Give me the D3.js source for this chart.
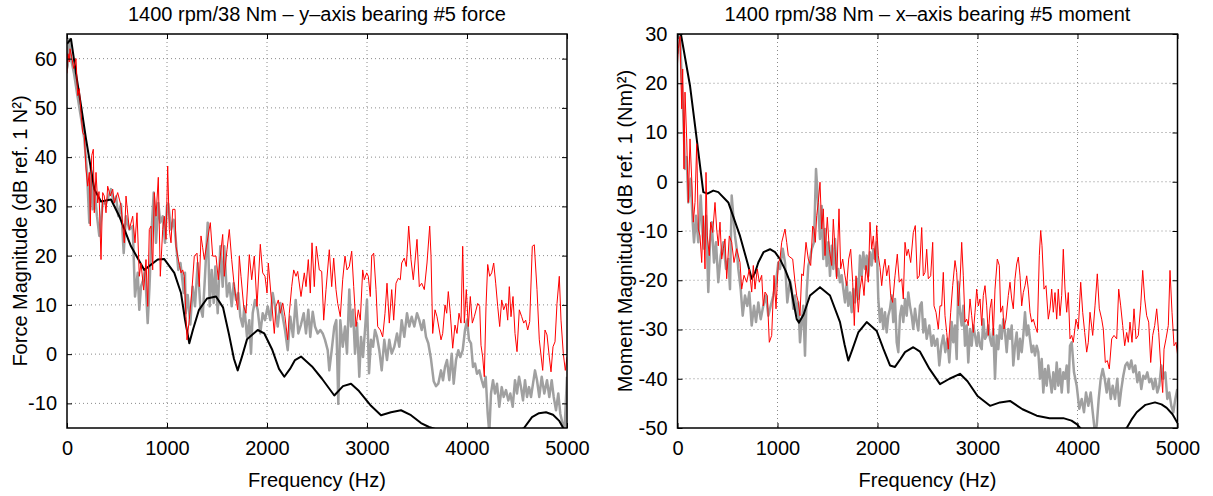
<!DOCTYPE html>
<html>
<head>
<meta charset="utf-8">
<script src="https://cdnjs.cloudflare.com/ajax/libs/d3/7.8.5/d3.min.js"></script>
<style>
body { margin:0; background:#fff; }
text { font-family: "Liberation Sans", Arial, Helvetica, sans-serif; }
</style>
</head>
<body>
<div id="chart-area"></div>
<script>
var W = 1213, H = 496
var plotW = 500, plotH = 394, top0 = 34
var fontPx = 20

// tick values
var freqTicks = [0,1000,2000,3000,4000,5000]
var forceTicks = [-10,0,10,20,30,40,50,60]
var momentTicks = [-50,-40,-30,-20,-10,0,10,20,30]

// [frequency Hz, dB]
// left panel, black smooth curve
var forceBase = [[0,63],[40,64],[90,57],[140,50.5],[190,43.7],[273,33.5],[340,31],[440,31.4],[523,28],[640,21.9],[773,17.1],[907,19.2],[973,19.3],[1073,16.5],[1140,12.4],[1180,7],[1223,2.2],[1260,5],[1320,9],[1400,11.3],[1490,11.7],[1560,9.5],[1620,4],[1670,-1],[1707,-3.3],[1750,-0.5],[1800,3],[1907,4.9],[1973,4.2],[2050,1],[2120,-3],[2173,-4.6],[2230,-3],[2280,-1.2],[2340,-0.5],[2450,-2.5],[2550,-5],[2673,-8.4],[2760,-6.5],[2840,-6],[2920,-7.5],[3040,-10.5],[3140,-12.4],[3240,-11.8],[3340,-11.4],[3440,-12.4],[3540,-14],[3620,-14.8],[3700,-15.3],[3900,-15.8],[4100,-16.5],[4300,-17],[4500,-15.8],[4570,-15],[4650,-12.8],[4720,-12],[4790,-11.8],[4860,-12.3],[4920,-13.5],[4957,-14.8],[5000,-16.5]]

// left panel, red
var forceRed = [[0,57],[10,61],[23,59.3],[30,62],[45,60.5],[67,58],[90,60],[107,52.5],[123,53.9],[140,49],[157,45],[173,44.4],[190,37.6],[207,34.1],[223,36.9],[233,26],[247,40.3],[263,41.6],[273,28.7],[290,36.9],[307,30.7],[320,33],[340,19.2],[357,32.8],[373,32.1],[390,28.7],[407,34.1],[433,32.1],[457,33.5],[473,30.7],[507,32.8],[540,30.1],[573,22.6],[590,32.1],[623,25.3],[657,28],[680,22.6],[700,28.7],[723,15.8],[740,18.5],[767,13],[790,19.2],[807,9.7],[823,25.3],[840,26],[857,17.1],[873,32.8],[890,28],[913,35.9],[933,15.8],[957,25.3],[973,28],[990,23.3],[1007,38.2],[1023,25.3],[1040,22.6],[1057,29.4],[1080,29.4],[1090,21.9],[1107,19.9],[1125,18],[1140,16.5],[1157,17.1],[1173,15.8],[1190,7.6],[1200,2.9],[1223,7],[1247,12.4],[1273,19.9],[1300,20.5],[1323,13.7],[1340,24],[1357,21.6],[1373,19.2],[1400,22.6],[1433,26.7],[1457,19.9],[1490,19.9],[1513,15.1],[1533,19.9],[1557,24.3],[1573,15.8],[1600,21.2],[1623,25.3],[1647,19.2],[1673,13.7],[1707,9],[1723,19.9],[1740,15.8],[1767,9.7],[1790,8.3],[1823,20.2],[1847,15.1],[1873,19.9],[1900,9.7],[1933,22.3],[1957,16.5],[1980,15.8],[2000,12.4],[2013,18.5],[2040,12],[2073,4.2],[2090,9.7],[2113,11],[2133,8.3],[2157,10.4],[2180,7.6],[2207,2.9],[2223,8.3],[2247,13.7],[2267,17.1],[2290,15.8],[2307,16.8],[2340,11.7],[2373,16.5],[2390,13.7],[2413,19.2],[2433,12.4],[2450,22.6],[2473,13.7],[2493,21.9],[2523,17.1],[2547,16.8],[2567,6.9],[2590,13.1],[2623,21.2],[2647,13.7],[2667,19.5],[2690,13.1],[2707,10.3],[2733,7.6],[2757,15.1],[2780,19.9],[2800,17.1],[2823,17.8],[2847,20.9],[2867,13.7],[2890,5.6],[2913,9],[2933,6.9],[2957,17.1],[2973,15.1],[2997,16.5],[3013,15.8],[3033,11.7],[3047,19.9],[3067,20.5],[3090,13.1],[3107,5.6],[3133,4.9],[3157,3.5],[3180,8.3],[3200,14.4],[3223,6.3],[3247,13.1],[3267,6.9],[3290,14.4],[3313,15.4],[3333,15.1],[3347,18.5],[3373,19.5],[3393,17.8],[3417,26],[3440,19.2],[3463,15.1],[3500,23.3],[3523,13.7],[3547,14.4],[3573,13.1],[3600,18.5],[3627,26],[3640,20],[3657,4.2],[3680,9],[3700,7.6],[3723,4.9],[3740,2.9],[3757,4.2],[3780,10],[3797,8.3],[3813,12.7],[3833,8.3],[3857,1.2],[3880,5.9],[3900,4.2],[3920,8.3],[3940,6.3],[3957,21.9],[3973,6.3],[3993,13.1],[4013,5.6],[4033,11.7],[4053,6.3],[4073,7.6],[4107,10.3],[4127,9.7],[4140,1.8],[4157,-0.6],[4173,-4.6],[4190,9.7],[4207,18.2],[4227,15.8],[4247,16.5],[4267,18.5],[4287,14.4],[4307,9.7],[4327,5.6],[4347,11],[4367,9],[4390,10.3],[4407,6.9],[4423,13.7],[4440,7.6],[4460,11.7],[4480,4.2],[4500,0.5],[4523,9],[4547,7.6],[4567,6.3],[4587,6.9],[4607,4.9],[4627,6.6],[4653,21.9],[4673,22.2],[4700,13.1],[4723,2.9],[4757,-3.3],[4780,4.9],[4800,3.9],[4823,-0.6],[4840,-3.6],[4860,1.5],[4880,2.5],[4900,10.3],[4923,15.8],[4940,6.9],[4963,0.1],[4983,-3.3],[5000,-0.6]]

// left panel, grey
var forceGray = [[0,58],[7,58.6],[20,64],[40,60],[70,57],[100,53],[140,48],[173,43.7],[200,36.9],[223,26.7],[240,38],[257,29.4],[273,34],[300,28],[323,24],[357,30.7],[390,30.5],[440,33.5],[467,30.7],[490,32],[513,28],[540,30.5],[567,20.5],[590,28],[623,25.3],[657,26],[680,11.7],[707,16.5],[723,9],[740,13.7],[760,15],[780,17.1],[807,6.3],[825,13.7],[847,25.3],[867,32.8],[890,22.6],[913,30.7],[933,26.7],[957,28],[980,22.6],[1000,30.1],[1013,30.5],[1040,25.3],[1067,27.3],[1090,22.6],[1113,17.1],[1135,18.5],[1157,14.4],[1167,12.4],[1180,16.5],[1187,8.3],[1207,12],[1233,6],[1257,13.7],[1280,9.7],[1307,18.5],[1333,9.7],[1357,7.6],[1380,15.8],[1407,26.7],[1427,9.7],[1447,17.1],[1467,10.4],[1483,17.8],[1507,8.3],[1533,21.9],[1557,13.7],[1573,21.9],[1600,11.7],[1623,14.4],[1647,9.7],[1667,14.4],[1690,11],[1713,12.4],[1733,7.6],[1757,5.6],[1773,9.7],[1800,3.5],[1823,6.9],[1840,0.1],[1857,8.3],[1880,11],[1907,9],[1933,4.2],[1957,8.3],[1980,6.9],[2007,9.7],[2033,6.9],[2057,12.4],[2080,9.7],[2107,5.6],[2133,10.4],[2157,7.6],[2180,4.9],[2207,0.8],[2233,7.6],[2260,3.5],[2287,11],[2313,4.2],[2340,6],[2367,8.3],[2390,4.2],[2413,9],[2433,3.5],[2457,8.6],[2480,5.6],[2507,4.2],[2533,4.9],[2557,4.2],[2580,2.9],[2607,0.8],[2623,-3.3],[2647,0.8],[2673,5.6],[2693,6.9],[2713,-10.1],[2733,6.9],[2757,1.5],[2780,5.6],[2800,0.1],[2823,13.1],[2840,5.6],[2860,9],[2880,0.1],[2900,6.3],[2923,-4.6],[2940,3.5],[2960,-0.6],[2980,4.9],[3000,11],[3020,-3.9],[3040,2.9],[3060,1.5],[3080,4.9],[3100,3.5],[3123,0.8],[3147,-3.3],[3173,2.9],[3200,-1.2],[3223,2.9],[3247,0.1],[3273,1.5],[3300,4.2],[3323,1.5],[3347,6.9],[3373,3.5],[3400,8.3],[3423,5.6],[3447,7.6],[3473,5.6],[3500,8.3],[3523,6.9],[3547,4.9],[3567,6.9],[3590,3.5],[3613,2.2],[3640,-1],[3667,-5.5],[3690,-6.5],[3713,-6],[3740,-3.3],[3760,-5.3],[3780,-2.6],[3800,-1.2],[3823,-5.3],[3847,0.1],[3867,-6],[3890,-1.2],[3913,0.8],[3933,-0.6],[3957,0.8],[3980,4.9],[4000,6.9],[4020,2.9],[4040,2.2],[4060,-2.6],[4080,-1.9],[4100,-4],[4123,-3.3],[4147,-5.3],[4167,-6.7],[4187,-4.6],[4207,-12.1],[4223,-16],[4240,-8],[4260,-5.3],[4280,-8],[4300,-6],[4323,-10.7],[4347,-6.7],[4367,-8.7],[4390,-7.3],[4413,-9.4],[4433,-8],[4457,-10.7],[4480,-5.3],[4500,-8],[4520,-4.6],[4540,-6.7],[4560,-9.4],[4580,-5.3],[4600,-8.7],[4620,-6.7],[4640,-8.7],[4660,-6],[4680,-3.3],[4700,-5.3],[4723,-8.7],[4747,-4.6],[4773,-8],[4800,-5.3],[4823,-8.7],[4847,-5.3],[4867,-8.7],[4890,-11.4],[4913,-8],[4933,-12.1],[4957,-14.2],[4973,-16.5],[5000,-4.6]]

// right panel, black smooth curve
var momentBase = [[0,32],[25,31],[60,27],[125,19.5],[192,8.7],[258,-2.1],[300,-2.4],[358,-1.8],[408,-2.1],[508,-4.2],[625,-11],[700,-16.5],[742,-19.7],[775,-18.5],[808,-16.4],[860,-14.3],[925,-13.7],[975,-14.3],[1025,-15.7],[1080,-18],[1125,-20.4],[1160,-24.5],[1192,-27.9],[1215,-28.6],[1260,-27],[1325,-23.1],[1425,-21.4],[1525,-23.1],[1625,-28.5],[1670,-33],[1708,-36.3],[1750,-34],[1808,-30.6],[1892,-28.5],[1992,-30.3],[2060,-34],[2125,-37.3],[2175,-37.6],[2230,-36],[2275,-34.6],[2358,-33.6],[2425,-34.5],[2520,-38],[2625,-41.1],[2720,-40],[2825,-39],[2900,-40.5],[3000,-43.5],[3125,-45.5],[3225,-44.8],[3325,-44.5],[3450,-46.2],[3592,-47.5],[3720,-48],[3858,-48],[3940,-48.5],[3992,-49.2],[4042,-50.3],[4150,-51.5],[4300,-52],[4420,-51],[4492,-50],[4540,-48.3],[4592,-46.8],[4680,-45.3],[4775,-44.8],[4840,-45.2],[4892,-45.9],[4950,-47.2],[5000,-49]]

// right panel, red
var momentRed = [[0,24],[8,27],[25,29.5],[42,14.8],[52,22.9],[65,2.6],[75,18.2],[92,8.7],[108,-4.2],[125,8.7],[142,0.6],[158,-8.2],[175,-4.2],[192,7.7],[208,-9.6],[225,-11],[242,-16.4],[258,-6.9],[275,-17.7],[285,1.9],[298,-11],[318,-15],[332,-8.2],[352,-10.3],[375,-4.2],[392,-9.6],[408,-13],[425,-8.2],[442,-15.7],[458,-13.6],[475,-11.6],[492,-19.7],[518,-11],[542,-12.3],[565,-16.4],[592,-13.6],[625,-16.4],[642,-21.8],[665,-19],[692,-20.4],[718,-17.7],[742,-22.4],[758,-17],[775,-21.8],[798,-17.7],[818,-20.4],[842,-19],[858,-25.2],[875,-22.4],[898,-23.1],[918,-32.6],[942,-31.2],[965,-19],[985,-25.8],[1008,-16.4],[1025,-15.7],[1042,-12.3],[1058,-11],[1075,-9.6],[1092,-12.3],[1108,-15],[1125,-15.3],[1152,-15.7],[1175,-20.4],[1192,-23.1],[1208,-24.5],[1225,-27.2],[1242,-18.7],[1258,-19.1],[1285,-12.3],[1308,-15.7],[1332,-17],[1352,-9],[1365,-9.6],[1378,-12.3],[1392,-6.9],[1408,-4.2],[1425,-0.1],[1442,-9.6],[1458,-5.5],[1475,-15],[1498,-7.2],[1518,-13.7],[1542,-17],[1558,-7.6],[1575,-13.7],[1592,-19.7],[1615,-5.5],[1632,-17.7],[1652,-15.7],[1675,-19.1],[1692,-21.1],[1712,-15.7],[1732,-13.7],[1752,-20.4],[1768,-29.2],[1785,-19.1],[1808,-26.5],[1825,-21.8],[1845,-19.1],[1865,-23.1],[1885,-17],[1908,-20.4],[1925,-8.2],[1942,-13.7],[1958,-11],[1978,-16.4],[1992,-8.9],[2008,-15],[2025,-17.4],[2042,-21.1],[2058,-17.7],[2075,-15.7],[2092,-19.1],[2112,-17],[2132,-23.1],[2152,-24.5],[2175,-19.1],[2198,-14.7],[2218,-20.4],[2242,-19.7],[2258,-23.8],[2275,-12.3],[2292,-15],[2308,-13.7],[2332,-16.4],[2358,-10.3],[2378,-8.9],[2398,-19.7],[2418,-19.1],[2442,-9.3],[2458,-19.1],[2475,-18.4],[2492,-13.7],[2508,-19.7],[2532,-19.1],[2552,-12.3],[2565,-25.2],[2585,-26.5],[2608,-29.9],[2625,-25.2],[2642,-25.2],[2658,-18.4],[2675,-27.2],[2692,-30.6],[2708,-34],[2732,-26.5],[2752,-21.1],[2775,-16],[2792,-18.4],[2808,-25.2],[2825,-20.4],[2842,-12.3],[2858,-19.1],[2875,-28.5],[2892,-27.9],[2908,-29.2],[2925,-23.8],[2942,-27.2],[2958,-30.6],[2975,-26.5],[2992,-21.8],[3008,-25.2],[3025,-23.8],[3042,-29.2],[3058,-23.1],[3075,-21.1],[3092,-25.2],[3108,-31.2],[3125,-25.8],[3142,-23.8],[3158,-31.2],[3175,-21.8],[3198,-15.7],[3218,-17],[3232,-26.5],[3252,-25.2],[3265,-29.9],[3285,-27.9],[3308,-23.1],[3325,-20.4],[3342,-23.8],[3358,-25.8],[3375,-19.7],[3392,-16.7],[3408,-15.3],[3425,-19.1],[3442,-25.2],[3458,-22.5],[3475,-21.1],[3492,-19.1],[3508,-21.8],[3525,-26.5],[3542,-28.5],[3558,-27.9],[3575,-29.2],[3598,-30.6],[3618,-15],[3632,-9.9],[3645,-13],[3665,-21.8],[3685,-21.1],[3708,-27.9],[3725,-25.8],[3742,-21.8],[3758,-26.5],[3775,-22.5],[3792,-27.9],[3808,-21.8],[3825,-27.2],[3842,-23.1],[3858,-13.7],[3875,-21.8],[3892,-26.5],[3908,-22.5],[3925,-31.9],[3942,-31.2],[3958,-32.6],[3985,-27.9],[4008,-29.9],[4032,-20.4],[4052,-26.5],[4072,-30.6],[4092,-34.6],[4108,-32.6],[4125,-26.5],[4152,-31.2],[4175,-25.2],[4198,-18.7],[4218,-25.8],[4242,-27.9],[4258,-29.9],[4278,-36.7],[4298,-36.3],[4318,-38],[4342,-31.9],[4365,-31.2],[4392,-31.9],[4412,-21.8],[4432,-25.2],[4452,-29.2],[4472,-33.3],[4492,-30.6],[4508,-32.6],[4525,-28.5],[4545,-32.6],[4565,-25.8],[4585,-31.9],[4608,-31.2],[4632,-25.2],[4652,-18],[4672,-23.8],[4692,-27.2],[4712,-28.5],[4732,-36.7],[4752,-31.2],[4772,-29.2],[4792,-25.8],[4812,-30.6],[4832,-37.3],[4852,-42.8],[4865,-34],[4885,-31.9],[4908,-29.2],[4925,-18],[4945,-26.5],[4965,-33.3],[4985,-32.6],[5000,-35]]

// right panel, grey
var momentGray = [[0,26],[8,29],[25,30],[40,22],[58,13.4],[75,2.6],[92,5],[108,-4.2],[132,0.6],[152,-8.2],[165,-12.3],[185,-6.9],[208,-12.3],[232,-2.8],[252,-11],[265,-13.6],[285,-6.9],[308,-22.4],[325,-12.3],[342,-8.2],[365,-16.4],[385,-12.3],[408,-20.4],[432,-15],[458,-12.3],[485,-17.7],[508,-15.7],[525,-21.8],[542,-2.8],[558,-6.9],[575,-11],[592,-13.6],[608,-17.7],[632,-21.8],[652,-27.2],[675,-23.1],[698,-25.2],[718,-22.4],[742,-29.2],[765,-25.2],[785,-28.5],[808,-24.5],[832,-27.9],[858,-25.2],[885,-23.1],[908,-27.2],[932,-25.2],[958,-23.1],[985,-20.4],[1008,-16.4],[1025,-17.7],[1052,-13.6],[1075,-16.4],[1098,-24.5],[1125,-20],[1142,-21.8],[1158,-25.8],[1175,-23.1],[1192,-27.2],[1208,-24.5],[1225,-32.6],[1242,-28.5],[1258,-25.2],[1275,-35.3],[1292,-22.5],[1308,-17.1],[1325,-15.7],[1342,-13.7],[1365,-12.3],[1385,2.6],[1398,-1.5],[1412,-6.9],[1425,-11.6],[1442,-4.9],[1458,-15.7],[1475,-9.6],[1492,-17.1],[1508,-12.3],[1525,-19.1],[1542,-13],[1558,-17.7],[1575,-11.6],[1592,-19.1],[1608,-17.7],[1625,-20.4],[1642,-19],[1658,-21.8],[1675,-24.5],[1692,-20.4],[1708,-25.2],[1725,-22.5],[1742,-26.5],[1758,-21.8],[1775,-24.5],[1792,-19.7],[1808,-23.8],[1825,-15],[1842,-19.1],[1858,-14.3],[1875,-17.7],[1892,-15],[1908,-19.1],[1925,-14.3],[1942,-17],[1958,-13.7],[1975,-15.7],[1992,-12.3],[2008,-23.8],[2025,-28.5],[2042,-25.8],[2058,-29.9],[2075,-26.5],[2092,-30.6],[2108,-27.2],[2125,-25.8],[2142,-23.1],[2158,-28.5],[2175,-23.8],[2192,-32.6],[2208,-34.6],[2225,-27.2],[2242,-25.2],[2258,-28.5],[2275,-23.8],[2292,-27.2],[2308,-22.5],[2325,-25.2],[2342,-27.2],[2358,-29.9],[2375,-25.8],[2392,-28.5],[2408,-30.2],[2425,-25.2],[2442,-24.5],[2458,-30.6],[2475,-27.9],[2492,-31.9],[2518,-29.2],[2542,-33.3],[2558,-31.2],[2575,-33.3],[2598,-31.9],[2618,-37.3],[2638,-33.3],[2658,-31.2],[2678,-34.6],[2698,-31.9],[2718,-36.7],[2742,-28.5],[2758,-32.6],[2775,-29.2],[2792,-36],[2808,-20.4],[2825,-26.5],[2842,-29.2],[2858,-25.2],[2875,-33.3],[2892,-29.2],[2908,-36.7],[2925,-29.9],[2942,-33.3],[2958,-29.2],[2975,-31.2],[2992,-33.3],[3008,-30.6],[3025,-33.3],[3042,-34],[3058,-27.9],[3075,-31.9],[3092,-31.2],[3108,-29.2],[3125,-31.9],[3142,-33.3],[3158,-29.9],[3175,-40],[3192,-31.2],[3208,-34],[3225,-29.2],[3242,-31.9],[3258,-27.9],[3275,-30.6],[3292,-34.6],[3308,-29.9],[3325,-31.9],[3342,-29.2],[3358,-37.3],[3375,-33.3],[3392,-30.6],[3408,-36],[3425,-31.9],[3442,-34.6],[3458,-31.2],[3475,-26.5],[3492,-31.2],[3508,-29.2],[3525,-31.9],[3542,-34.6],[3558,-33.3],[3575,-35.3],[3592,-33.3],[3608,-34.6],[3625,-40],[3642,-36],[3658,-42.8],[3675,-38],[3692,-41.4],[3708,-37.3],[3725,-40],[3742,-42.8],[3758,-38.7],[3775,-42.1],[3792,-36.7],[3808,-41.4],[3825,-38],[3842,-42.8],[3858,-38.7],[3875,-40],[3892,-37.3],[3908,-42.8],[3925,-33.3],[3942,-32.6],[3965,-38.7],[3992,-41.4],[4018,-46.1],[4042,-44.1],[4065,-46.8],[4085,-42.8],[4108,-45.5],[4132,-42.8],[4152,-46.8],[4175,-51],[4192,-49.5],[4212,-44.1],[4232,-40],[4252,-38],[4272,-40],[4292,-42.8],[4312,-40],[4332,-44.1],[4352,-41.4],[4375,-44.1],[4398,-40],[4418,-45.5],[4438,-42.1],[4458,-39.4],[4478,-37.3],[4498,-36.7],[4518,-38],[4538,-36.3],[4558,-38.7],[4578,-37.3],[4598,-40.7],[4618,-38.7],[4638,-42.1],[4658,-39.4],[4678,-40],[4698,-38.7],[4718,-40.7],[4738,-40],[4758,-42.1],[4778,-40],[4798,-42.8],[4818,-41.4],[4838,-37.3],[4858,-40],[4878,-38.7],[4898,-44.1],[4918,-42.8],[4938,-45.5],[4958,-46.8],[4978,-44.1],[4998,-42.1]]

var panels = [
  {id:"p0", left:67, title:"1400 rpm/38 Nm – y–axis bearing #5 force",
   ylabel:"Force Magnitude (dB ref. 1 N²)", yDomain:[-15,65], yTicks:forceTicks,
   gray:forceGray, red:forceRed, black:forceBase, ylabX:27},
  {id:"p1", left:677.5, title:"1400 rpm/38 Nm – x–axis bearing #5 moment",
   ylabel:"Moment Magnitude (dB ref. 1 (Nm)²)", yDomain:[-50,30], yTicks:momentTicks,
   gray:momentGray, red:momentRed, black:momentBase, ylabX:632}
]

var svg = d3.select("#chart-area").append("svg")
    .attr("width", W)
    .attr("height", H)

svg.append("rect").attr("width", W).attr("height", H).attr("fill", "#fff")

var fmt = function(d){ return String(d) }

panels.forEach(function(p){
  var x = d3.scaleLinear().domain([0,5000]).range([0, plotW])
  var y = d3.scaleLinear().domain(p.yDomain).range([plotH, 0])

  var g = svg.append("g")
    .attr("transform", "translate(" + p.left + "," + top0 + ")")

  g.append("clipPath").attr("id", "clip-" + p.id)
    .append("rect").attr("width", plotW).attr("height", plotH)

  // dotted grid
  var inner = function(t, d){ return t.filter(function(v){ return v > d[0] && v < d[1] }) }
  g.append("g").selectAll("line")
    .data(inner(freqTicks, [0,5000]))
    .enter().append("line")
      .attr("x1", function(d){ return x(d) }).attr("x2", function(d){ return x(d) })
      .attr("y1", 0).attr("y2", plotH)
      .attr("stroke", "#8a8a8a").attr("stroke-width", 1)
      .attr("stroke-dasharray", "1,3")
  g.append("g").selectAll("line")
    .data(inner(p.yTicks, p.yDomain))
    .enter().append("line")
      .attr("y1", function(d){ return y(d) }).attr("y2", function(d){ return y(d) })
      .attr("x1", 0).attr("x2", plotW)
      .attr("stroke", "#8a8a8a").attr("stroke-width", 1)
      .attr("stroke-dasharray", "1,3")

  var line = d3.line()
    .x(function(d){ return x(d[0]) })
    .y(function(d){ return y(d[1]) })

  var data = g.append("g").attr("clip-path", "url(#clip-" + p.id + ")")
  data.append("path").datum(p.gray)
    .attr("d", line).attr("fill", "none")
    .attr("stroke", "#a0a0a0").attr("stroke-width", 2.5).attr("stroke-linejoin", "round")
  data.append("path").datum(p.black)
    .attr("d", line).attr("fill", "none")
    .attr("stroke", "#000").attr("stroke-width", 2).attr("stroke-linejoin", "round")
  data.append("path").datum(p.red)
    .attr("d", line).attr("fill", "none")
    .attr("stroke", "#ff0000").attr("stroke-width", 1).attr("stroke-linejoin", "round")

  // axes, ticks pointing inward
  var xAxisCall = d3.axisBottom(x).tickValues(freqTicks).tickFormat(fmt)
    .tickSizeInner(-5).tickSizeOuter(0).tickPadding(13)
  g.append("g").attr("class", "x axis")
    .attr("transform", "translate(0," + plotH + ")")
    .call(xAxisCall)

  var yAxisCall = d3.axisLeft(y).tickValues(p.yTicks).tickFormat(fmt)
    .tickSizeInner(-5).tickSizeOuter(0).tickPadding(10)
  g.append("g").attr("class", "y axis").call(yAxisCall)

  g.append("g").attr("class", "x axis top")
    .call(d3.axisTop(x).tickValues(freqTicks).tickFormat("").tickSizeInner(-5).tickSizeOuter(0))
  g.append("g").attr("class", "y axis right")
    .attr("transform", "translate(" + plotW + ",0)")
    .call(d3.axisRight(y).tickValues(p.yTicks).tickFormat("").tickSizeInner(-5).tickSizeOuter(0))

  g.selectAll(".axis .domain").remove()
  g.selectAll(".axis line").attr("stroke", "#000")
  g.selectAll(".axis text").attr("font-size", fontPx).attr("fill", "#000")
    .style("font-family", "'Liberation Sans', Arial, sans-serif")

  g.append("rect").attr("width", plotW).attr("height", plotH)
    .attr("fill", "none").attr("stroke", "#000").attr("stroke-width", 1.5)

  // labels
  svg.append("text")
    .attr("x", p.left + plotW/2).attr("y", 21)
    .attr("text-anchor", "middle").attr("font-size", fontPx)
    .text(p.title)
  svg.append("text")
    .attr("x", p.left + plotW/2).attr("y", 487)
    .attr("text-anchor", "middle").attr("font-size", fontPx)
    .text("Frequency (Hz)")
  svg.append("text")
    .attr("transform", "translate(" + p.ylabX + "," + (top0 + plotH/2) + ") rotate(-90)")
    .attr("text-anchor", "middle").attr("font-size", fontPx)
    .text(p.ylabel)
})
</script>
</body>
</html>
